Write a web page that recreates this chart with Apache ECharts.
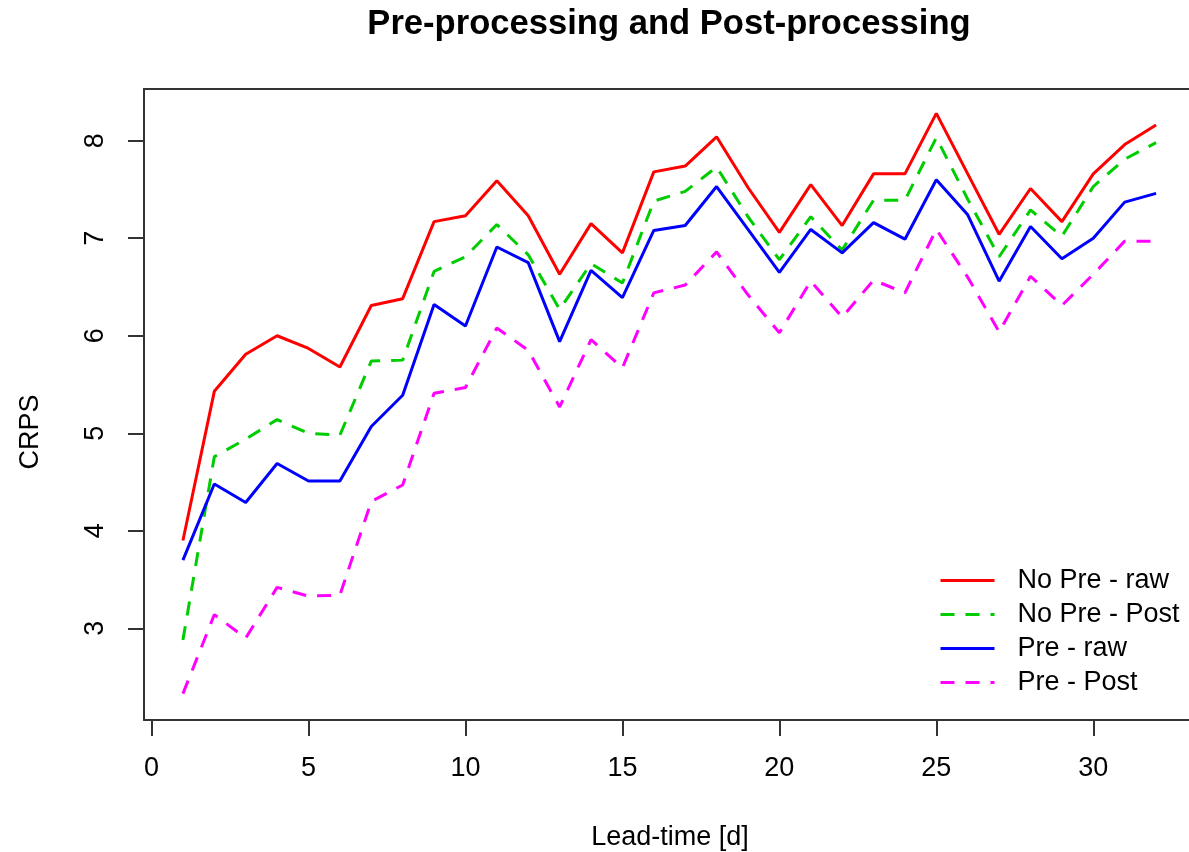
<!DOCTYPE html>
<html>
<head>
<meta charset="utf-8">
<title>Pre-processing and Post-processing</title>
<script src="https://cdn.jsdelivr.net/npm/echarts@6/dist/echarts.min.js"></script>
<style>
  html, body { margin: 0; padding: 0; background: #fff; }
  #chart { width: 1189px; height: 852px; }
</style>
</head>
<body>
<div id="chart"></div>
<script>
// lead time in days
const leadTime = [1, 2, 3, 4, 5, 6, 7, 8, 9, 10, 11, 12, 13, 14, 15, 16,
  17, 18, 19, 20, 21, 22, 23, 24, 25, 26, 27, 28, 29, 30, 31, 32]

// CRPS values
const noPreRaw = [3.90, 5.43, 5.81, 6.00, 5.87, 5.68, 6.31, 6.38, 7.17, 7.23, 7.59, 7.23, 6.63, 7.15, 6.85, 7.68,
  7.74, 8.04, 7.52, 7.06, 7.55, 7.13, 7.66, 7.66, 8.28, 7.66, 7.04, 7.51, 7.17, 7.66, 7.96, 8.16]
const noPrePost = [2.88, 4.76, 4.94, 5.14, 5.00, 4.98, 5.74, 5.75, 6.66, 6.81, 7.14, 6.83, 6.27, 6.74, 6.54, 7.38,
  7.48, 7.73, 7.22, 6.78, 7.22, 6.88, 7.39, 7.39, 8.03, 7.40, 6.81, 7.29, 7.02, 7.53, 7.81, 7.98]
const preRaw = [3.70, 4.48, 4.29, 4.69, 4.51, 4.51, 5.07, 5.39, 6.32, 6.10, 6.91, 6.75, 5.94, 6.67, 6.39, 7.08,
  7.13, 7.53, 7.09, 6.65, 7.09, 6.85, 7.16, 6.99, 7.60, 7.24, 6.56, 7.12, 6.79, 7.00, 7.37, 7.46]
const prePost = [2.33, 3.14, 2.90, 3.42, 3.33, 3.34, 4.30, 4.47, 5.41, 5.47, 6.08, 5.85, 5.27, 5.96, 5.67, 6.44,
  6.52, 6.86, 6.42, 6.03, 6.56, 6.19, 6.57, 6.44, 7.09, 6.60, 6.04, 6.61, 6.31, 6.63, 6.97, 6.97]

// tick labels
const xTicks = [0, 5, 10, 15, 20, 25, 30]
const yTicks = [3, 4, 5, 6, 7, 8]

const FONT = '"Liberation Sans", Arial, sans-serif'
const dash = [14, 11]
const frame = { show: true, onZero: false, lineStyle: { color: '#333', width: 2 } }

const pairs = vals => leadTime.map((d, i) => [d, vals[i]])

const lineSeries = (name, vals, color, dashed) => ({
  name: name,
  type: 'line',
  data: pairs(vals),
  symbol: 'none',
  showSymbol: false,
  lineStyle: { width: 3, color: color, type: dashed ? dash : 'solid' },
  itemStyle: { color: color }
})

const chart = echarts.init(document.getElementById('chart'))

const option = {
  animation: false,
  backgroundColor: '#fff',
  grid: {
    left: 144,
    top: 89,
    width: 1051,
    height: 631,
    outerBoundsMode: 'none',
    show: false
  },
  xAxis: [
    {
      type: 'value',
      min: -0.24,
      max: 33.24,
      axisLine: frame,
      splitLine: { show: false },
      axisTick: {
        show: true,
        length: 16,
        customValues: xTicks,
        lineStyle: { color: '#333', width: 2 }
      },
      axisLabel: {
        customValues: xTicks,
        margin: 35,
        fontSize: 27,
        fontFamily: FONT,
        color: '#000'
      }
    },
    {
      // top edge of the box
      type: 'value',
      position: 'top',
      min: -0.24,
      max: 33.24,
      axisLine: frame,
      axisTick: { show: false },
      axisLabel: { show: false },
      splitLine: { show: false }
    }
  ],
  yAxis: {
    type: 'value',
    min: 2.06,
    max: 8.53,
    axisLine: frame,
    splitLine: { show: false },
    axisTick: {
      show: true,
      length: 16,
      customValues: yTicks,
      lineStyle: { color: '#333', width: 2 }
    },
    axisLabel: {
      customValues: yTicks,
      rotate: 90,
      margin: 35,
      fontSize: 27,
      fontFamily: FONT,
      color: '#000'
    }
  },
  legend: {
    orient: 'vertical',
    left: 939,
    top: 567,
    padding: 0,
    itemWidth: 54,
    itemHeight: 14,
    itemGap: 7,
    itemStyle: { opacity: 0 },
    lineStyle: { width: 3 },
    textStyle: {
      fontSize: 27,
      lineHeight: 27,
      fontFamily: FONT,
      color: '#000',
      padding: [0, 0, 0, 18]
    },
    data: ['No Pre - raw', 'No Pre - Post', 'Pre - raw', 'Pre - Post']
  },
  graphic: [
    {
      type: 'text',
      x: 669,
      y: 24,
      style: {
        text: 'Pre-processing and Post-processing',
        fontSize: 34.6,
        fontWeight: 'bold',
        fontFamily: FONT,
        fill: '#000',
        align: 'center',
        verticalAlign: 'middle',
        textAlign: 'center',
        textVerticalAlign: 'middle'
      }
    },
    {
      type: 'text',
      x: 31,
      y: 432,
      rotation: Math.PI / 2,
      style: {
        text: 'CRPS',
        fontSize: 27,
        fontFamily: FONT,
        fill: '#000',
        align: 'center',
        verticalAlign: 'middle',
        textAlign: 'center',
        textVerticalAlign: 'middle'
      }
    },
    {
      type: 'text',
      x: 670,
      y: 838,
      style: {
        text: 'Lead-time [d]',
        fontSize: 27,
        fontFamily: FONT,
        fill: '#000',
        align: 'center',
        verticalAlign: 'middle',
        textAlign: 'center',
        textVerticalAlign: 'middle'
      }
    }
  ],
  series: [
    lineSeries('No Pre - raw', noPreRaw, '#ff0000', false),
    lineSeries('No Pre - Post', noPrePost, '#00cd00', true),
    lineSeries('Pre - raw', preRaw, '#0000ff', false),
    lineSeries('Pre - Post', prePost, '#ff00ff', true)
  ]
}

chart.setOption(option)
</script>
</body>
</html>
